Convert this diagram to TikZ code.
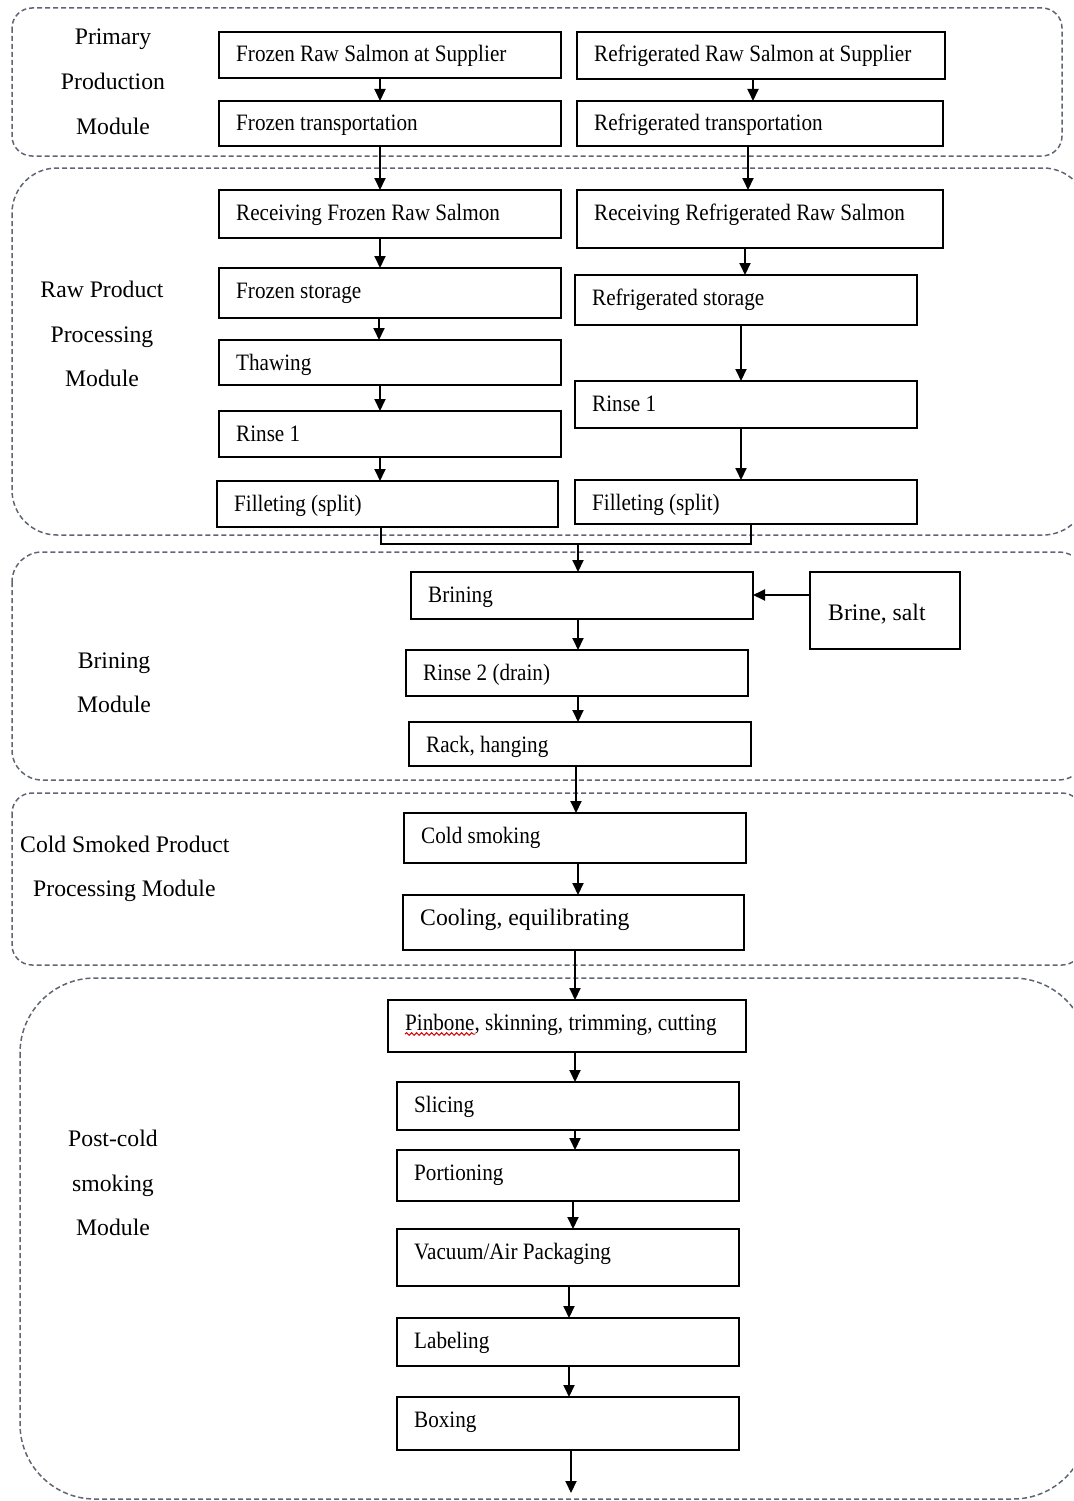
\documentclass[tikz,border=0pt]{standalone}
\usepackage{fontspec}
\setmainfont{Liberation Serif}
\newfontfamily\boxfont[FakeStretch=0.9]{Liberation Serif}
\usetikzlibrary{arrows.meta,decorations.pathmorphing}

\definecolor{framegray}{HTML}{5F6573}

\tikzset{
  frame/.style={draw=framegray, line width=1.5pt, dash pattern=on 5pt off 3pt},
  boxst/.style={draw=black, line width=2pt, inner sep=0pt, outer sep=0pt},
  boxtxt/.style={inner sep=0pt, font=\boxfont\fontsize{23.5}{26}\selectfont, anchor=base west},
  modtxt/.style={inner sep=0pt, font=\fontsize{23.7}{26}\selectfont, anchor=base},
  flow/.style={line width=1.9pt, -{Triangle[length=12pt,width=11pt]}},
  link/.style={line width=1.9pt},
}
\newcommand\bigtxt{\rmfamily\fontsize{23.7}{26}\selectfont}

% process box: name, left, top, right, bottom, text
\newcommand\procbox[6]{%
  \pgfmathsetmacro\pbw{#4-#2}%
  \pgfmathsetmacro\pbh{#5-#3}%
  \node[boxst, minimum width=\pbw pt, minimum height=\pbh pt, anchor=north west] (#1) at (#2,#3) {};%
  \node[boxtxt] (#1-t) at ([shift={(17pt,-30pt)}]#1.north west) {#6};%
}

\begin{document}
\begin{tikzpicture}[x=1pt, y=-1pt]
\useasboundingbox (0,0) rectangle (1073,1501);
\clip (0,0) rectangle (1073,1501);

% module frames
\draw[frame, rounded corners=20pt] (12,8) rectangle (1062,156);
\draw[frame, rounded corners=45pt] (12,168) rectangle (1088,535);
\draw[frame, rounded corners=30pt] (12,552) rectangle (1088,780);
\draw[frame, rounded corners=20pt] (12,793) rectangle (1082,965);
\draw[frame, rounded corners=75pt] (20,978) rectangle (1088,1499);

% module labels
\node[modtxt] (m1a) at (113,45) {Primary};
\node[modtxt] (m1b) at (113,90) {Production};
\node[modtxt] (m1c) at (113,135) {Module};
\node[modtxt] (m2a) at (102,297) {Raw Product};
\node[modtxt] (m2b) at (102,342) {Processing};
\node[modtxt] (m2c) at (102,386) {Module};
\node[modtxt] (m3a) at (114,668) {Brining};
\node[modtxt] (m3b) at (114,712) {Module};
\node[modtxt, anchor=base west] (m4a) at (20,852) {Cold Smoked Product};
\node[modtxt, anchor=base west] (m4b) at (33,896) {Processing Module};
\node[modtxt] (m5a) at (113,1146) {Post-cold};
\node[modtxt] (m5b) at (113,1191) {smoking};
\node[modtxt] (m5c) at (113,1235) {Module};

% primary production
\procbox{frs}{219}{32}{561}{78}{Frozen Raw Salmon at Supplier}
\procbox{rrs}{577}{32}{945}{79}{Refrigerated Raw Salmon at Supplier}
\procbox{ftr}{219}{101}{561}{146}{Frozen transportation}
\procbox{rtr}{577}{101}{943}{146}{Refrigerated transportation}

% raw product processing
\procbox{rfr}{219}{190}{561}{238}{Receiving Frozen Raw Salmon}
\procbox{rrf}{577}{190}{943}{248}{Receiving Refrigerated Raw Salmon}
\procbox{fst}{219}{268}{561}{318}{Frozen storage}
\procbox{rst}{575}{275}{917}{325}{Refrigerated storage}
\procbox{thw}{219}{340}{561}{385}{Thawing}
\procbox{rl1}{219}{411}{561}{457}{Rinse 1}
\procbox{rr1}{575}{381}{917}{428}{Rinse 1}
\procbox{fl}{217}{481}{558}{527}{Filleting (split)}
\procbox{fr}{575}{480}{917}{524}{Filleting (split)}

% brining
\procbox{brn}{411}{572}{753}{619}{Brining}
\node[boxst, minimum width=150pt, minimum height=77pt, anchor=north west] (salt) at (810,572) {};
\node[inner sep=0pt, anchor=base west, font=\bigtxt] (salt-t) at (828,620) {Brine, salt};
\procbox{rin2}{406}{650}{748}{696}{Rinse 2 (drain)}
\procbox{rack}{409}{722}{751}{766}{Rack, hanging}

% cold smoking
\procbox{cold}{404}{813}{746}{863}{Cold smoking}
\procbox{cool}{403}{895}{744}{950}{\bigtxt Cooling, equilibrating}

% post-cold smoking
\procbox{pin}{388}{1000}{746}{1052}{Pinbone, skinning, trimming, cutting}
\draw[red!85!black, line width=1pt, decorate, decoration={snake, amplitude=1.3pt, segment length=5pt}]
  ([yshift=-4pt]pin-t.base west) -- ++(70pt,0pt);
\procbox{slc}{397}{1082}{739}{1130}{Slicing}
\procbox{por}{397}{1150}{739}{1201}{Portioning}
\procbox{vac}{397}{1229}{739}{1286}{Vacuum/Air Packaging}
\procbox{lab}{397}{1318}{739}{1366}{Labeling}
\procbox{boxing}{397}{1397}{739}{1450}{Boxing}

% flow: frozen branch
\draw[flow] (frs.south -| 380,0) -- (ftr.north -| 380,0);
\draw[flow] (ftr.south -| 380,0) -- (rfr.north -| 380,0);
\draw[flow] (rfr.south -| 380,0) -- (fst.north -| 380,0);
\draw[flow] (fst.south -| 379,0) -- (thw.north -| 379,0);
\draw[flow] (thw.south -| 380,0) -- (rl1.north -| 380,0);
\draw[flow] (rl1.south -| 380,0) -- (fl.north -| 380,0);

% flow: refrigerated branch
\draw[flow] (rrs.south -| 753,0) -- (rtr.north -| 753,0);
\draw[flow] (rtr.south -| 748,0) -- (rrf.north -| 748,0);
\draw[flow] (rrf.south -| 745,0) -- (rst.north -| 745,0);
\draw[flow] (rst.south -| 741,0) -- (rr1.north -| 741,0);
\draw[flow] (rr1.south -| 741,0) -- (fr.north -| 741,0);

% branches join
\coordinate (jl) at (381,544);
\coordinate (jr) at (751,544);
\coordinate (jm) at (578,544);
\draw[link] (fl.south -| jl) -- (jl) -- (jr) -- (fr.south -| jr);
\draw[flow] (jm) -- (brn.north -| jm);

% brine input
\coordinate (sj) at ([yshift=-23pt]salt.north west);
\draw[flow] (sj) -- (sj -| brn.east);

% main line
\draw[flow] (brn.south -| 578,0) -- (rin2.north -| 578,0);
\draw[flow] (rin2.south -| 578,0) -- (rack.north -| 578,0);
\draw[flow] (rack.south -| 576,0) -- (cold.north -| 576,0);
\draw[flow] (cold.south -| 578,0) -- (cool.north -| 578,0);
\draw[flow] (cool.south -| 575,0) -- (pin.north -| 575,0);
\draw[flow] (pin.south -| 575,0) -- (slc.north -| 575,0);
\draw[flow] (slc.south -| 575,0) -- (por.north -| 575,0);
\draw[flow] (por.south -| 573,0) -- (vac.north -| 573,0);
\draw[flow] (vac.south -| 569,0) -- (lab.north -| 569,0);
\draw[flow] (lab.south -| 569,0) -- (boxing.north -| 569,0);
\coordinate (out) at (571,1493);
\draw[flow] (boxing.south -| out) -- (out);
\end{tikzpicture}
\end{document}
